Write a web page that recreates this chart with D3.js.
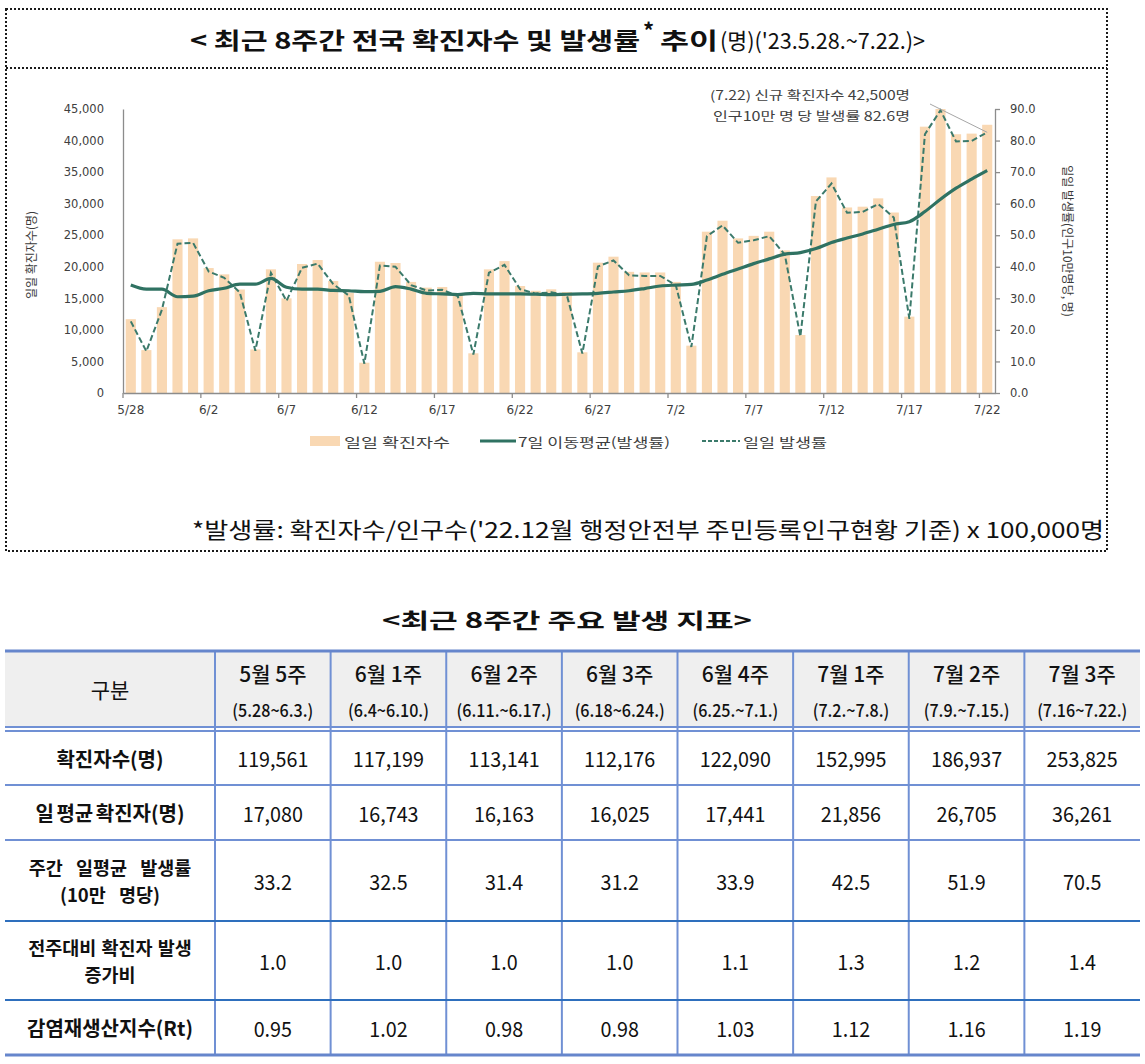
<!DOCTYPE html>
<html>
<head>
<meta charset="utf-8">
<script src="https://cdn.jsdelivr.net/npm/d3@7"></script>
<style>
  body { margin: 0; background: #fff; }
  svg { display: block; }
</style>
</head>
<body>
<svg id="canvas" width="1145" height="1064"></svg>
<script>
// ---- chart data ----
var dates = ["5/28","5/29","5/30","5/31","6/1","6/2","6/3",
  "6/4","6/5","6/6","6/7","6/8","6/9","6/10",
  "6/11","6/12","6/13","6/14","6/15","6/16","6/17",
  "6/18","6/19","6/20","6/21","6/22","6/23","6/24",
  "6/25","6/26","6/27","6/28","6/29","6/30","7/1",
  "7/2","7/3","7/4","7/5","7/6","7/7","7/8",
  "7/9","7/10","7/11","7/12","7/13","7/14","7/15",
  "7/16","7/17","7/18","7/19","7/20","7/21","7/22"];
var dailyCases = [11700,6800,13600,24350,24500,19800,18800,
  16400,6900,19600,15000,20440,21070,17750,
  15900,4800,20800,20600,17600,16700,16800,
  15800,6290,19590,20900,16950,16200,16430,
  16000,6450,20650,21600,19200,19100,19100,
  17600,7500,25560,27300,24500,24900,25560,
  22600,9190,31210,34160,29400,29520,30840,
  28600,12100,42200,46100,41000,41100,42500];
var dailyRate = [22.7,13.2,26.4,47.3,47.6,38.5,36.5,
  31.9,13.4,38.1,29.2,39.7,41.0,34.5,
  30.9,9.3,40.4,40.0,34.2,32.5,32.7,
  30.7,12.2,38.1,40.6,32.9,31.5,31.9,
  31.1,12.5,40.1,42.0,37.3,37.1,37.1,
  34.2,14.6,49.7,53.1,47.6,48.4,49.7,
  43.9,17.9,60.7,66.4,57.1,57.4,59.9,
  55.6,23.5,82.0,89.6,79.7,79.9,82.6];
var movingAvgRate = [34.2,32.9,32.9,30.5,30.7,32.4,33.2,
  34.5,34.5,36.3,33.5,32.9,32.9,32.5,
  32.4,32.1,32.2,33.7,32.9,31.6,31.4,
  31.2,31.6,31.4,31.4,31.4,31.3,31.2,
  31.3,31.4,31.6,32.0,32.4,33.1,33.9,
  34.2,34.4,35.8,37.6,39.3,41.0,42.5,
  44.0,44.5,45.8,47.7,49.1,50.4,51.9,
  53.4,54.3,57.5,61.4,64.9,67.8,70.5];
var dateTicks = ["5/28","6/2","6/7","6/12","6/17","6/22","6/27","7/2","7/7","7/12","7/17","7/22"];
var caseTicks = [0,5000,10000,15000,20000,25000,30000,35000,40000,45000];
var rateTicks = [0,10,20,30,40,50,60,70,80,90];

// ---- table data ----
var weekLabels = ["5월 5주","6월 1주","6월 2주","6월 3주","6월 4주","7월 1주","7월 2주","7월 3주"];
var weekRanges = ["(5.28~6.3.)","(6.4~6.10.)","(6.11.~6.17.)","(6.18~6.24.)","(6.25.~7.1.)","(7.2.~7.8.)","(7.9.~7.15.)","(7.16~7.22.)"];
var weeklyCases = [119561,117199,113141,112176,122090,152995,186937,253825];
var weeklyDailyAvg = [17080,16743,16163,16025,17441,21856,26705,36261];
var weeklyRate = [33.2,32.5,31.4,31.2,33.9,42.5,51.9,70.5];
var weeklyRatio = [1.0,1.0,1.0,1.0,1.1,1.3,1.2,1.4];
var weeklyRt = [0.95,1.02,0.98,0.98,1.03,1.12,1.16,1.19];

var FONT_KR = '"Noto Sans CJK KR", "Noto Sans", sans-serif';
var FONT_TICK = '"DejaVu Sans", Verdana, sans-serif';
var TEXT = "#404040";

var svg = d3.select("#canvas");

// squeeze a text sideways to look like the narrow face in the source
function condense(sel, k) {
  sel.each(function () {
    var w = this.getComputedTextLength();
    d3.select(this).attr("textLength", w * k).attr("lengthAdjust", "spacingAndGlyphs");
  });
}

// ---- dotted frame round the chart ----
svg.append("rect")
  .attr("x", 6).attr("y", 9).attr("width", 1101).attr("height", 542)
  .attr("fill", "none").attr("stroke", "#1a1a1a")
  .attr("stroke-width", 2).attr("stroke-dasharray", "2,2");
svg.append("line")
  .attr("x1", 6).attr("x2", 1107).attr("y1", 68).attr("y2", 68)
  .attr("stroke", "#1a1a1a").attr("stroke-width", 2).attr("stroke-dasharray", "2,2");

// title, in pieces so the superscript star sits right
function piece(str, x, y, size, weight, len) {
  var t = svg.append("text")
    .attr("x", x).attr("y", y)
    .attr("font-family", FONT_KR).attr("font-size", size)
    .attr("font-weight", weight).attr("fill", "#111")
    .text(str);
  if (len) t.attr("textLength", len).attr("lengthAdjust", "spacingAndGlyphs");
  return t;
}
piece("< 최근 8주간 전국 확진자수 및 발생률", 190, 49, 23, 700, 450);
piece("*", 643, 39, 22, 700);
piece("추이", 660, 49, 23, 700, 58);
piece("(명)('23.5.28.~7.22.)>", 720, 49, 22, 400, 205);

// ---- scales ----
var plot = { left: 123, right: 995, top: 109, bottom: 393 };
var x = d3.scaleBand().domain(dates)
  .range([plot.left, plot.right])
  .paddingInner(0.35).paddingOuter(0.175);
var yCases = d3.scaleLinear().domain([0, 45000]).range([plot.bottom, plot.top]).clamp(true);
var yRate = d3.scaleLinear().domain([0, 90]).range([plot.bottom, plot.top]);
function cx(d) { return x(d) + x.bandwidth() / 2; }

// bars
svg.append("g").selectAll("rect")
  .data(dates).enter().append("rect")
  .attr("x", function (d) { return x(d); })
  .attr("width", x.bandwidth())
  .attr("y", function (d, i) { return yCases(dailyCases[i]); })
  .attr("height", function (d, i) { return plot.bottom - yCases(dailyCases[i]); })
  .attr("fill", "#f9d8b3");

// axes
var axisColor = "#8c8c8c";
var gl = svg.append("g").attr("transform", "translate(" + plot.left + ",0)")
  .call(d3.axisLeft(yCases).tickValues(caseTicks).tickFormat(d3.format(",")).tickSize(0).tickPadding(19));
var gr = svg.append("g").attr("transform", "translate(" + plot.right + ",0)")
  .call(d3.axisRight(yRate).tickValues(rateTicks).tickFormat(d3.format(".1f")).tickSizeInner(5).tickSizeOuter(0).tickPadding(10));
var gb = svg.append("g").attr("transform", "translate(0," + plot.bottom + ")")
  .call(d3.axisBottom(x).tickValues(dateTicks).tickSize(0).tickPadding(12));
[gl, gr, gb].forEach(function (g) {
  g.selectAll("path.domain").attr("stroke", axisColor).attr("stroke-width", 1.3);
  g.selectAll(".tick line").attr("stroke", axisColor).attr("stroke-width", 1.3);
  g.selectAll("text").attr("font-family", FONT_TICK).attr("font-size", 11.5).attr("fill", TEXT);
});
gb.selectAll("text").attr("font-size", 12);

// category tick marks sit between the bars
svg.append("g").selectAll("line")
  .data(dateTicks).enter().append("line")
  .attr("x1", function (d) { return x(d) - x.step() * x.paddingInner() / 2; })
  .attr("x2", function (d) { return x(d) - x.step() * x.paddingInner() / 2; })
  .attr("y1", plot.bottom).attr("y2", plot.bottom + 5)
  .attr("stroke", axisColor).attr("stroke-width", 1.3);

// axis titles
svg.append("text")
  .attr("transform", "translate(30," + 255 + ") rotate(-90)")
  .attr("text-anchor", "middle").attr("dominant-baseline", "central")
  .attr("font-family", FONT_KR).attr("font-size", 12).attr("fill", "#3a3a3a")
  .text("일일 확진자수(명)");
svg.append("text")
  .attr("transform", "translate(1068," + 241 + ") rotate(90)")
  .attr("text-anchor", "middle").attr("dominant-baseline", "central")
  .attr("font-family", FONT_KR).attr("font-size", 12).attr("fill", "#3a3a3a")
  .text("일일 발생률(인구10만명당, 명)");

// lines
var lineColor = "#2f7262";
var avgLine = d3.line()
  .x(function (d, i) { return cx(dates[i]); })
  .y(function (d) { return yRate(d); })
  .curve(d3.curveMonotoneX);
var rateLine = d3.line()
  .x(function (d, i) { return cx(dates[i]); })
  .y(function (d) { return yRate(d); });

svg.append("path").datum(dailyRate)
  .attr("d", rateLine).attr("fill", "none")
  .attr("stroke", "#3b7a6b").attr("stroke-width", 2)
  .attr("stroke-dasharray", "6,3");
svg.append("path").datum(movingAvgRate)
  .attr("d", avgLine).attr("fill", "none")
  .attr("stroke", lineColor).attr("stroke-width", 3.2);

// callout for the last day
var last = dates.length - 1;
svg.append("line")
  .attr("x1", 930).attr("y1", 104)
  .attr("x2", cx(dates[last])).attr("y2", yRate(dailyRate[last]))
  .attr("stroke", "#a6a6a6").attr("stroke-width", 1);
svg.append("text")
  .attr("x", 910).attr("y", 100).attr("text-anchor", "end")
  .attr("font-family", FONT_KR).attr("font-size", 12.5).attr("fill", TEXT)
  .attr("textLength", 200).attr("lengthAdjust", "spacingAndGlyphs")
  .text("(" + dates[last].replace("/", ".") + ") 신규 확진자수 " + d3.format(",")(dailyCases[last]) + "명");
svg.append("text")
  .attr("x", 910).attr("y", 121).attr("text-anchor", "end")
  .attr("font-family", FONT_KR).attr("font-size", 12.5).attr("fill", TEXT)
  .attr("textLength", 197).attr("lengthAdjust", "spacingAndGlyphs")
  .text("인구10만 명 당 발생률 " + d3.format(".1f")(dailyRate[last]) + "명");

// legend
var lg = svg.append("g");
lg.append("rect").attr("x", 310).attr("y", 436).attr("width", 30).attr("height", 10).attr("fill", "#f9d8b3");
lg.append("line").attr("x1", 480).attr("x2", 516).attr("y1", 441).attr("y2", 441)
  .attr("stroke", lineColor).attr("stroke-width", 3);
lg.append("line").attr("x1", 702).attr("x2", 740).attr("y1", 441).attr("y2", 441)
  .attr("stroke", "#3b7a6b").attr("stroke-width", 2).attr("stroke-dasharray", "4,2");
[["일일 확진자수", 344, 106], ["7일 이동평균(발생률)", 518, 152], ["일일 발생률", 743, 84]].forEach(function (l) {
  lg.append("text").attr("x", l[1]).attr("y", 441).attr("dominant-baseline", "central")
    .attr("font-family", FONT_KR).attr("font-size", 13).attr("fill", TEXT)
    .attr("textLength", l[2]).attr("lengthAdjust", "spacingAndGlyphs")
    .text(l[0]);
});

// footnote
svg.append("text")
  .attr("x", 1104).attr("y", 538).attr("text-anchor", "end")
  .attr("font-family", FONT_KR).attr("font-size", 22).attr("fill", "#111")
  .attr("textLength", 912).attr("lengthAdjust", "spacingAndGlyphs")
  .text("*발생률: 확진자수/인구수('22.12월 행정안전부 주민등록인구현황 기준) x 100,000명");

// ---- weekly table ----
svg.append("text")
  .attr("x", 567).attr("y", 628).attr("text-anchor", "middle")
  .attr("font-family", FONT_KR).attr("font-size", 21).attr("font-weight", 700).attr("fill", "#111")
  .attr("textLength", 370).attr("lengthAdjust", "spacingAndGlyphs")
  .text("<최근 8주간 주요 발생 지표>");

var table = { left: 5, right: 1140, top: 651, head: 727, firstCol: 215 };
var rowEdges = [731, 785, 840, 921, 1000, 1055];
var col = d3.scaleBand().domain(weekLabels).range([table.firstCol, table.right]);
var colMid = table.left + (table.firstCol - table.left) / 2;

var rows = [
  { label: ["확진자수(명)"], values: weeklyCases, fmt: d3.format(",") },
  { label: ["일 평균 확진자(명)"], values: weeklyDailyAvg, fmt: d3.format(",") },
  { label: ["주간 일평균 발생률", "(10만 명당)"], values: weeklyRate, fmt: d3.format(".1f") },
  { label: ["전주대비 확진자 발생", "증가비"], values: weeklyRatio, fmt: d3.format(".1f") },
  { label: ["감염재생산지수(Rt)"], values: weeklyRt, fmt: d3.format(".2f") }
];
var wordGap = [0, -2, 9, 1, 0];

var tg = svg.append("g");
tg.append("rect")
  .attr("x", table.left).attr("y", table.top)
  .attr("width", table.right - table.left).attr("height", table.head - table.top)
  .attr("fill", "#efefef");

// header
tg.append("text").attr("x", colMid).attr("y", 689)
  .attr("text-anchor", "middle").attr("dominant-baseline", "central")
  .attr("font-family", FONT_KR).attr("font-size", 21).attr("fill", "#111")
  .text("구분");
tg.selectAll("text.week").data(weekLabels).enter().append("text")
  .attr("class", "week")
  .attr("x", function (d) { return col(d) + col.bandwidth() / 2; })
  .attr("y", 673).attr("text-anchor", "middle").attr("dominant-baseline", "central")
  .attr("font-family", FONT_KR).attr("font-size", 21).attr("font-weight", 500).attr("fill", "#111")
  .text(function (d) { return d; });
tg.selectAll("text.range").data(weekRanges).enter().append("text")
  .attr("class", "range")
  .attr("x", function (d, i) { return col(weekLabels[i]) + col.bandwidth() / 2; })
  .attr("y", 709).attr("text-anchor", "middle").attr("dominant-baseline", "central")
  .attr("font-family", FONT_KR).attr("font-size", 17.5).attr("font-weight", 500).attr("fill", "#111")
  .text(function (d) { return d; })
  .call(condense, 0.92);

// body
rows.forEach(function (r, ri) {
  var mid = (rowEdges[ri] + rowEdges[ri + 1]) / 2;
  r.label.forEach(function (line, li) {
    var off = r.label.length > 1 ? (li === 0 ? -13.5 : 13.5) : 0;
    tg.append("text").attr("x", colMid).attr("y", mid + off)
      .attr("text-anchor", "middle").attr("dominant-baseline", "central")
      .attr("font-family", FONT_KR).attr("font-size", r.label.length > 1 ? 18.5 : 20)
      .attr("font-weight", 700).attr("fill", "#111").attr("word-spacing", wordGap[ri])
      .text(line);
  });
  tg.selectAll("text.v" + ri).data(r.values).enter().append("text")
    .attr("class", "v" + ri)
    .attr("x", function (d, i) { return col(weekLabels[i]) + col.bandwidth() / 2; })
    .attr("y", mid).attr("text-anchor", "middle").attr("dominant-baseline", "central")
    .attr("font-family", FONT_KR).attr("font-size", 21).attr("fill", "#111")
    .text(function (d) { return r.fmt(d); })
    .call(condense, 0.94);
});

// grid lines
var blue = "#7090d4", deep = "#2e6fbd";
function hline(y, w, c) {
  tg.append("line").attr("x1", table.left).attr("x2", table.right)
    .attr("y1", y).attr("y2", y).attr("stroke", c).attr("stroke-width", w);
}
var splits = [table.firstCol].concat(weekLabels.slice(1).map(function (d) { return col(d); }));
tg.selectAll("line.v").data(splits).enter().append("line")
  .attr("class", "v")
  .attr("x1", function (d) { return d; }).attr("x2", function (d) { return d; })
  .attr("y1", table.top).attr("y2", rowEdges[rowEdges.length - 1])
  .attr("stroke", blue).attr("stroke-width", 2);
hline(table.top, 3, "#6686cc");
hline(table.head, 2, blue);
hline(rowEdges[0], 2, blue);
hline(rowEdges[1], 2, blue);
hline(rowEdges[2], 2, blue);
hline(rowEdges[3], 2, deep);
hline(rowEdges[4], 2, deep);
hline(rowEdges[5], 3, "#6686cc");
</script>
</body>
</html>
